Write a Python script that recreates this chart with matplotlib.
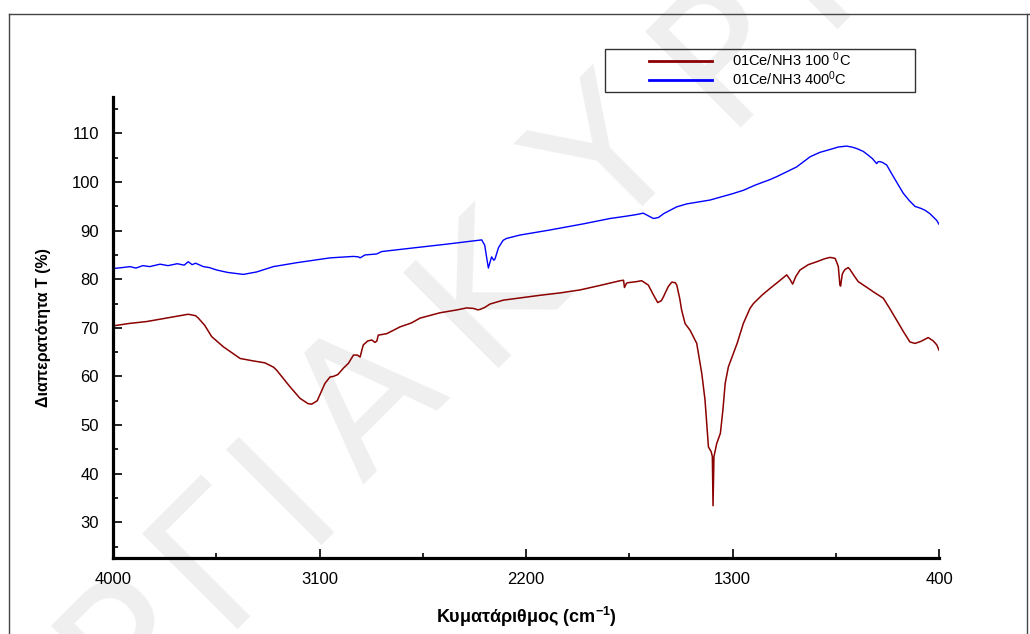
import matplotlib
matplotlib.use("Agg")
import numpy as np
import matplotlib.pyplot as plt
from matplotlib.lines import Line2D
from matplotlib.patches import Rectangle

plt.rcParams['font.family'] = ['Liberation Sans', 'DejaVu Sans']
plt.rcParams['mathtext.default'] = 'regular'

# FTIR spectrum, sample at 100 oC
wn_100 = [4000, 3930, 3853, 3780, 3720, 3672, 3640, 3628, 3600, 3570, 3519,
          3446, 3389, 3338, 3300, 3287, 3229, 3185, 3150, 3134, 3110, 3076,
          3054, 3040, 3020, 2996, 2974, 2952, 2935, 2923, 2915, 2909, 2890,
          2872, 2858, 2850, 2844, 2807, 2749, 2700, 2662, 2575, 2500, 2459,
          2429, 2410, 2400, 2380, 2357, 2299, 2220, 2139, 2050, 1965, 1880,
          1790, 1775, 1771, 1762, 1754, 1720, 1696, 1667, 1645, 1626, 1610,
          1601, 1580, 1565, 1550, 1543, 1530, 1522, 1507, 1485, 1456, 1434,
          1420, 1405, 1393, 1388, 1385, 1381, 1369, 1353, 1342, 1332, 1318,
          1280, 1253, 1224, 1209, 1170, 1137, 1100, 1064, 1050, 1038, 1025,
          1006, 970, 933, 900, 875, 853, 846, 839, 832, 829, 822, 817, 810,
          796, 788, 770, 752, 720, 686, 643, 615, 585, 555, 527, 505, 480,
          447, 425, 410, 400]
t_100 = [70.4, 70.9, 71.3, 71.9, 72.4, 72.8, 72.5, 72.0, 70.5, 68.2, 66.1,
         63.7, 63.2, 62.8, 61.9, 61.3, 57.9, 55.5, 54.4, 54.3, 55.0, 58.6,
         59.9, 60.0, 60.4, 61.7, 62.7, 64.4, 64.4, 64.0, 65.5, 66.5, 67.3,
         67.5, 67.0, 67.3, 68.5, 68.8, 70.2, 71.0, 72.0, 73.1, 73.7, 74.1,
         74.0, 73.7, 73.8, 74.2, 74.9, 75.7, 76.2, 76.7, 77.2, 77.8, 78.7,
         79.7, 79.8, 78.3, 79.2, 79.3, 79.5, 79.7, 78.8, 76.8, 75.2, 75.6,
         76.4, 78.5, 79.4, 79.3, 78.8, 76.0, 73.7, 70.9, 69.5, 66.8, 60.6,
         55.2, 45.5, 44.5, 43.5, 33.4, 43.5, 46.2, 48.3, 53.1, 58.6, 62.0,
         66.8, 70.9, 74.0, 75.0, 76.8, 78.1, 79.5, 80.9, 80.0, 79.0, 80.5,
         81.9, 83.0, 83.6, 84.2, 84.5, 84.3, 83.5, 82.6, 78.8, 78.6, 81.0,
         81.5, 82.0, 82.4, 82.0, 80.7, 79.5, 78.5, 77.4, 76.1, 74.0, 71.6,
         69.2, 67.1, 66.8, 67.2, 68.0, 67.3, 66.5, 65.4]

# FTIR spectrum, sample at 400 oC
wn_400 = [4000, 3960, 3926, 3900, 3870, 3840, 3795, 3760, 3720, 3690, 3672,
          3655, 3640, 3606, 3580, 3548, 3500, 3432, 3374, 3301, 3200, 3054,
          2952, 2930, 2923, 2902, 2851, 2829, 2700, 2550, 2393, 2380, 2370,
          2364, 2357, 2350, 2340, 2335, 2320, 2300, 2285, 2226, 2100, 1950,
          1834, 1760, 1720, 1689, 1665, 1645, 1623, 1600, 1580, 1543, 1500,
          1398, 1300, 1253, 1200, 1137, 1108, 1060, 1021, 962, 920, 875, 840,
          803, 780, 759, 730, 708, 690, 672, 665, 657, 645, 628, 610, 585,
          556, 530, 505, 480, 461, 440, 425, 410, 400]
t_400 = [82.2, 82.4, 82.6, 82.3, 82.8, 82.6, 83.1, 82.8, 83.2, 82.9, 83.6,
         83.0, 83.3, 82.6, 82.4, 81.9, 81.4, 81.0, 81.5, 82.6, 83.4, 84.4,
         84.7, 84.6, 84.4, 85.0, 85.2, 85.7, 86.4, 87.2, 88.1, 87.0, 84.0,
         82.3, 83.5, 84.6, 83.9, 84.2, 86.5, 88.0, 88.4, 89.1, 90.1, 91.4,
         92.5, 93.0, 93.3, 93.6, 93.0, 92.5, 92.7, 93.5, 94.0, 94.9, 95.5,
         96.3, 97.6, 98.3, 99.4, 100.5, 101.1, 102.2, 103.1, 105.2, 106.1,
         106.7, 107.2, 107.4, 107.2, 106.9, 106.3, 105.5, 104.8, 103.8, 104.2,
         104.2, 104.0, 103.5, 102.0, 100.0, 97.7, 96.2, 95.0, 94.6, 94.2,
         93.5, 92.8, 92.1, 91.3]

x_major = [4000, 3100, 2200, 1300, 400]
x_minor = [3550, 2650, 1750, 850]
y_major = [30, 40, 50, 60, 70, 80, 90, 100, 110]
y_minor = [25, 35, 45, 55, 65, 75, 85, 95, 105, 115]
labels = ["01Ce/NH3 100 $^0$C", "01Ce/NH3 400$^0$C"]

W, H = 1030, 634
fig = plt.figure(figsize=(W / 100, H / 100), dpi=100)

# faint diagonal lettering behind the plot, one letter at a time
mark_letters = ["Ρ", "Γ", "Ι", "Α", "Κ", "Υ", "Ρ", "Ι"]
mark_steps = [-340, -215, -120, 0, 164, 341, 500, 610]
ang = np.radians(45)
for ch, s in zip(mark_letters, mark_steps):
    px = 372 + s * np.cos(ang)
    py = 405 - s * np.sin(ang)
    fig.text(px / W, 1 - py / H, ch, fontsize=133, color="#efefef",
             rotation=45, ha="center", va="center", rotation_mode="anchor",
             family="DejaVu Sans", zorder=-1)

# outer frame
for xs, ys in [([0.0087, 1.0], [0.978, 0.978]),
               ([0.0087, 0.0087], [0.0, 0.978]),
               ([0.997, 0.997], [0.0, 0.978])]:
    fig.add_artist(Line2D(xs, ys, transform=fig.transFigure,
                          color="#444444", lw=1.0))

ax = fig.add_axes([0.1097, 0.1203, 0.802, 0.7267])
ax.set_facecolor("none")

ax.plot(wn_100, t_100, color="#8b0000", lw=1.1, label=labels[0])
ax.plot(wn_400, t_400, color="#0000ff", lw=1.0, label=labels[1])

ax.set_xlim(4000, 400)
ax.set_ylim(22.7, 117.5)
ax.set_xticks(x_major)
ax.set_xticks(x_minor, minor=True)
ax.set_yticks(y_major)
ax.set_yticks(y_minor, minor=True)

for side in ["top", "right"]:
    ax.spines[side].set_visible(False)
for side in ["left", "bottom"]:
    ax.spines[side].set_linewidth(2.3)

ax.tick_params(which="both", direction="in", width=1.2, pad=10,
               labelsize=12)
ax.tick_params(which="major", length=6.5)
ax.tick_params(which="minor", length=3.5)

ax.set_ylabel("Διαπερατότητα Τ (%)", fontsize=11.5, fontweight="bold")
ax.set_xlabel("Κυματάριθμος (cm$^{-1}$)", fontsize=13, fontweight="bold")
ax.yaxis.set_label_coords(-0.075, 0.5)
ax.xaxis.set_label_coords(0.5, -0.103)

leg = ax.legend(loc="upper left", bbox_to_anchor=(0.630, 0.92),
                bbox_transform=fig.transFigure, frameon=False, fontsize=10.5,
                handlelength=4.3, handletextpad=1.4, borderpad=0,
                labelspacing=0.0, borderaxespad=0)
for line in leg.get_lines():
    line.set_linewidth(2)
fig.add_artist(Rectangle((605 / W, 1 - 92 / H), 310 / W, 43 / H,
                         transform=fig.transFigure, fill=False,
                         edgecolor="#333333", lw=1.0))

fig.savefig("out.png", dpi=100)
